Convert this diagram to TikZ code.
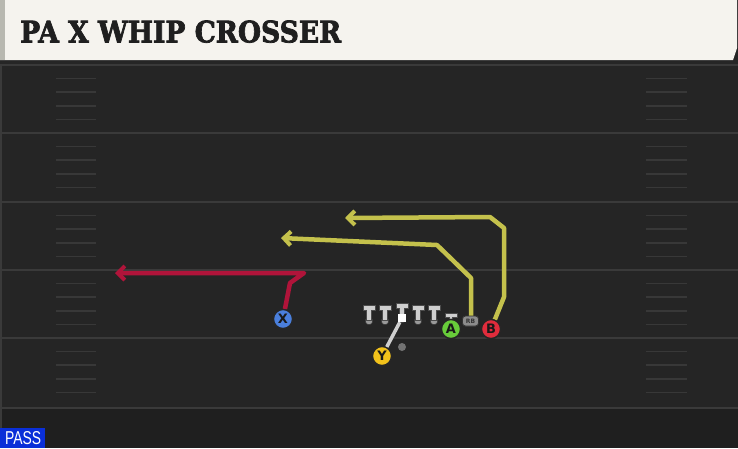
\documentclass[tikz,border=0pt]{standalone}
\usepackage{fontspec}
\setmainfont{DejaVu Sans}
\newfontfamily\titlefont[BoldFeatures={FakeBold=2.5}]{DejaVu Serif}
\newfontfamily\passfont{Liberation Sans}
\usetikzlibrary{arrows.meta}
\definecolor{field}{HTML}{252525}
\definecolor{fieldlow}{HTML}{1F1F1F}
\definecolor{yard}{HTML}{3A3A3A}
\definecolor{hashc}{HTML}{383838}
\definecolor{cream}{HTML}{F5F3EE}
\definecolor{creamedge}{HTML}{B8B8B0}
\definecolor{routered}{HTML}{B0143A}
\definecolor{routeyel}{HTML}{C4C14C}
\definecolor{xblue}{HTML}{4A7FDC}
\definecolor{yyel}{HTML}{F2C21B}
\definecolor{agreen}{HTML}{68CC3A}
\definecolor{bred}{HTML}{E02C3C}
\definecolor{linegray}{HTML}{CFCFCF}
\definecolor{ballgray}{HTML}{9A9A9A}
\definecolor{passblue}{HTML}{0A2FD8}
\tikzset{
  player/.style={circle, draw=black!85, line width=1.3pt, minimum size=19pt, inner sep=0pt,
    font=\fontsize{13}{13}\selectfont\bfseries, text=black!90},
  route/.style={line width=4.5pt, line join=round, -{Straight Barb[length=7pt,width=14pt,line width=4pt]}},
  yardline/.style={yard, line width=2pt},
  hashline/.style={hashc, line width=1.5pt},
  rbstyle/.style={draw=black!80, line width=0.8pt, fill=black!45, rounded corners=3pt, minimum width=16pt,
    minimum height=10pt, inner sep=0pt, font=\fontsize{6}{6}\selectfont\bfseries, text=black!80},
}
\newcommand{\lineman}[2]{%
  \fill[ballgray, draw=black!80, line width=0.6pt] (#1,#2+16) circle[radius=3.8pt];
  \filldraw[linegray, draw=black!70, line width=0.5pt] (#1-6,#2) -- (#1+6,#2) -- (#1+6,#2+5) -- (#1+2.5,#2+5)
     -- (#1+2.5,#2+15) -- (#1-2.5,#2+15) -- (#1-2.5,#2+5) -- (#1-6,#2+5) -- cycle;
}
\begin{document}
\begin{tikzpicture}[x=1pt,y=-1pt]
\useasboundingbox (0,0) rectangle (738,448);
% field
\fill[field] (0,0) rectangle (738,448);
\fill[fieldlow] (0,408) rectangle (738,448);
\fill[yard] (0,60) rectangle (2,448);
% yard lines
\foreach \yy in {65,133,202,270,338,408}
  \draw[yardline] (0,\yy) -- (738,\yy);
% hashes
\foreach \yy in {65,133,202,270,338}{
  \foreach \k in {1,2,3,4}{
    \draw[hashline] (56,\yy+13.6*\k) -- (96,\yy+13.6*\k);
    \draw[hashline] (646,\yy+13.6*\k) -- (687,\yy+13.6*\k);
  }
}
% header
\fill[black!85] (0,59) rectangle (738,64);
\fill[cream] (0,0) -- (737,0) -- (737,48) -- (733,60) -- (0,60) -- cycle;
\fill[creamedge] (0,0) rectangle (5,60);
\node[anchor=south west, inner sep=0pt, text=black!88] (title) at (20,43)
  {\resizebox{321pt}{22pt}{\titlefont\bfseries PA X WHIP CROSSER}};
% line
\lineman{369}{305}
\lineman{385}{305}
\lineman{402}{303}
\lineman{418}{305}
\lineman{434}{305}
\filldraw[linegray, draw=black!70, line width=0.5pt] (445,313) -- (457,313) -- (457,317) -- (452.5,317)
  -- (452.5,320) -- (449.5,320) -- (449.5,317) -- (445,317) -- cycle;
\node[fill=white, minimum size=8pt, inner sep=0pt] (ball) at (402,318) {};
\fill[black!55] (402,347) circle[radius=4pt];
% RB
\node[rbstyle] (RB) at (470.5,321) {RB};
% players
\node[player, fill=xblue] (X) at (283,319) {X};
\node[player, fill=yyel] (Y) at (382,356) {Y};
\node[player, fill=agreen] (A) at (451,329) {A};
\node[player, fill=bred] (B) at (491,329) {B};
% route points
\coordinate (x1) at (290,283);
\coordinate (x2) at (304,273);
\coordinate (xe) at (115,273);
\coordinate (r0) at (471,316);
\coordinate (r1) at (471,278);
\coordinate (r2) at (437,245);
\coordinate (re) at (281,238);
\coordinate (b1) at (504,297);
\coordinate (b2) at (504,228);
\coordinate (b3) at (490,217);
\coordinate (be) at (345,218);
% routes
\draw[linegray, line width=3.5pt] (Y) -- (ball);
\draw[route, routered] (X) -- (x1) -- (x2) -- (xe);
\draw[route, routeyel] (r0) -- (r1) -- (r2) -- (re);
\draw[route, routeyel] (B) -- (b1) -- (b2) -- (b3) -- (be);
% redraw players on top
\node[fill=white, minimum size=8pt, inner sep=0pt] at (402,318) {};
\node[player, fill=xblue] at (283,319) {X};
\node[player, fill=yyel] at (382,356) {Y};
\node[player, fill=agreen] at (451,329) {A};
\node[player, fill=bred] at (491,329) {B};
\node[rbstyle] at (470.5,321) {RB};
% PASS badge
\fill[passblue] (0,428) rectangle (45,448);
\node[anchor=south west, inner sep=0pt, text=white] (pass) at (5,445)
  {\resizebox{36pt}{13pt}{\passfont PASS}};
\end{tikzpicture}
\end{document}
